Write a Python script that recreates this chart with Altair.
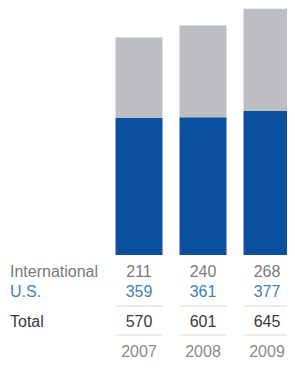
import altair as alt
import pandas as pd

years = ["2007", "2008", "2009"]
international = [211, 240, 268]
us = [359, 361, 377]
total = [570, 601, 645]
row_labels = ["International", "U.S.", "Total"]

rows = []
for y, i, u in zip(years, international, us):
    rows.append({"year": y, "series": "U.S.", "value": u})
    rows.append({"year": y, "series": "International", "value": i})
bars_df = pd.DataFrame(rows)
table_df = pd.DataFrame({"year": years, "international": international,
                         "us": us, "total": total})

FONT = "Liberation Sans"
FS = 16

xscale = alt.Scale(domain=years, range=[99, 291],
                   paddingInner=0.266, paddingOuter=0.133)
X = alt.X("year:N", scale=xscale, axis=None)

bars = alt.Chart(bars_df).transform_calculate(
    ord="datum.series == 'U.S.' ? 0 : 1"
).mark_bar(clip=True).encode(
    x=X,
    y=alt.Y("value:Q", stack="zero",
            scale=alt.Scale(domain=[0, 647], range=[247, 0], nice=False),
            axis=None),
    color=alt.Color("series:N",
                    scale=alt.Scale(domain=["U.S.", "International"],
                                    range=["#0b4f9f", "#bdbec1"]),
                    legend=None),
    order=alt.Order("ord:Q"),
)


def value_row(field, yv, color, ftype="Q"):
    return alt.Chart(table_df).mark_text(
        font=FONT, fontSize=FS, color=color, baseline="middle", align="center"
    ).encode(x=X, y=alt.value(yv), text=alt.Text(f"{field}:{ftype}"))


def label(idx, yv, color):
    df = pd.DataFrame({"label": [row_labels[idx]]})
    return alt.Chart(df).mark_text(
        font=FONT, fontSize=FS, color=color, baseline="middle", align="left"
    ).encode(x=alt.value(2), y=alt.value(yv), text="label:N")


def rule(yv):
    return alt.Chart(table_df).mark_tick(
        orient="horizontal", size=47, thickness=1, color="#c9c9c9"
    ).encode(x=X, y=alt.value(yv))


layers = [
    bars,
    label(0, 264, "#7a7a7a"), value_row("international", 264, "#7a7a7a"),
    label(1, 284, "#3f7fbf"), value_row("us", 284, "#3f7fbf"),
    rule(298),
    label(2, 314, "#3a3a3a"), value_row("total", 314, "#3a3a3a"),
    rule(327),
    value_row("year", 344, "#8a8a8a", "N"),
]

chart = alt.layer(*layers).properties(
    width=279, height=353,
    autosize=alt.AutoSizeParams(type="none"), padding=0
).configure_view(stroke=None)

chart.save("out.html", embed_options={"renderer": "svg", "actions": False})
